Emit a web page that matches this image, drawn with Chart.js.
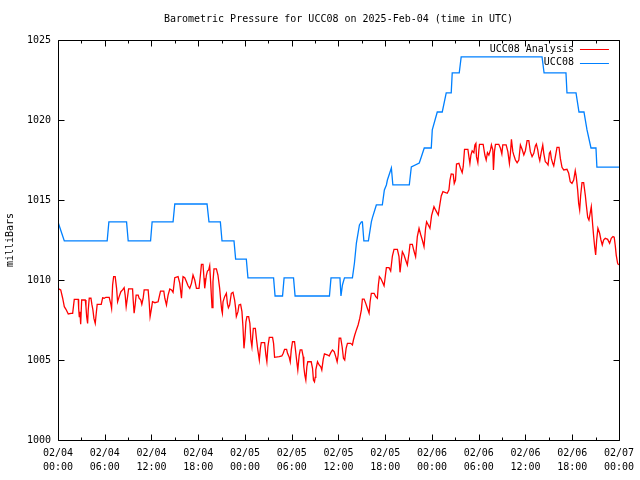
<!DOCTYPE html>
<html><head><meta charset="utf-8">
<script src="https://cdn.jsdelivr.net/npm/chart.js@4.4.1/dist/chart.umd.min.js"></script>
<style>html,body{margin:0;padding:0;background:#fff}</style>
</head><body>
<canvas id="c" width="640" height="480"></canvas>
<script>
// ---- data (hours since 2025-02-04 00:00 UTC, pressure in mbar) ----
const chartTitle = 'Barometric Pressure for UCC08 on 2025-Feb-04 (time in UTC)';
const yAxisTitle = 'milliBars';
const seriesNames = ['UCC08 Analysis', 'UCC08'];

const xTickHours = [0, 6, 12, 18, 24, 30, 36, 42, 48, 54, 60, 66, 72];
const xTickLabels = [
  ['02/04', '00:00'], ['02/04', '06:00'], ['02/04', '12:00'], ['02/04', '18:00'],
  ['02/05', '00:00'], ['02/05', '06:00'], ['02/05', '12:00'], ['02/05', '18:00'],
  ['02/06', '00:00'], ['02/06', '06:00'], ['02/06', '12:00'], ['02/06', '18:00'],
  ['02/07', '00:00']
];
const yTickValues = [1000, 1005, 1010, 1015, 1020, 1025];

const analysisHours = [0.09,0.35,0.60,0.81,1.02,1.32,1.67,1.88,2.09,2.60,2.65,2.73,2.82,2.91,3.04,3.50,3.59,3.68,3.80,3.88,4.01,4.23,4.36,4.48,4.61,4.78,4.91,5.03,5.55,5.73,5.93,6.15,6.57,6.79,6.88,7.01,7.14,7.34,7.52,7.65,7.85,8.07,8.29,8.49,8.62,8.75,8.93,9.06,9.57,9.65,9.77,9.90,10.03,10.29,10.41,10.63,10.76,10.93,11.06,11.57,11.70,11.82,12.00,12.13,12.43,12.85,13.16,13.58,13.71,13.92,14.13,14.35,14.57,14.77,14.99,15.41,15.63,15.85,15.97,16.05,16.27,16.49,16.69,16.91,17.13,17.33,17.55,17.77,18.10,18.28,18.41,18.61,18.74,18.83,19.05,19.18,19.34,19.47,19.60,19.77,19.89,20.02,20.33,20.53,20.75,20.88,21.01,21.10,21.18,21.39,21.61,21.74,21.87,22.03,22.25,22.46,22.67,22.80,22.89,23.10,23.23,23.44,23.61,23.74,23.87,23.99,24.12,24.25,24.47,24.63,24.76,24.89,25.07,25.33,25.49,25.62,25.75,25.84,25.97,26.09,26.52,26.68,26.81,26.94,27.12,27.54,27.67,27.80,28.40,28.73,28.91,29.08,29.34,29.46,29.68,29.81,29.94,30.10,30.36,30.53,30.65,30.78,30.96,31.09,31.30,31.47,31.55,31.68,31.81,31.94,32.06,32.50,32.67,32.79,32.92,33.01,33.09,33.31,33.52,33.73,33.86,34.04,34.20,34.63,34.81,35.01,35.23,35.45,35.65,35.83,35.96,36.09,36.29,36.47,36.64,36.80,36.98,37.15,37.57,37.79,37.92,38.09,38.30,38.52,38.73,38.94,39.07,39.29,39.50,39.71,39.93,40.06,40.22,40.57,40.78,40.99,41.12,41.25,41.42,41.63,41.85,41.98,42.15,42.49,42.70,42.92,43.13,43.56,43.77,43.90,44.07,44.20,44.41,44.62,44.84,45.05,45.18,45.48,45.69,45.90,46.03,46.12,46.34,46.54,46.76,46.98,47.18,47.31,47.53,47.74,47.95,48.26,48.46,48.81,48.97,49.19,49.41,49.96,50.18,50.31,50.47,50.73,50.86,51.02,51.15,51.46,51.66,51.88,52.01,52.18,52.61,52.74,52.87,53.00,53.16,53.38,53.51,53.64,53.71,53.89,54.02,54.10,54.57,54.79,54.96,55.12,55.30,55.51,55.63,55.81,55.89,56.02,56.15,56.58,56.79,56.97,57.09,57.52,57.74,57.94,58.07,58.20,58.38,58.50,58.71,58.93,59.15,59.35,59.57,59.79,59.99,60.21,60.43,60.63,60.85,61.07,61.27,61.40,61.58,61.71,61.84,62.00,62.22,62.35,62.55,62.77,62.90,63.07,63.20,63.32,63.50,63.63,63.84,64.05,64.31,64.48,64.69,64.91,65.33,65.55,65.75,65.97,66.19,66.39,66.52,66.70,66.83,66.96,67.09,67.26,67.47,67.68,67.81,67.99,68.15,68.32,68.45,68.63,68.75,68.88,69.01,69.14,69.30,69.52,69.69,69.86,70.03,70.24,70.55,70.80,71.01,71.23,71.39,71.52,71.65,71.83,71.96];
const analysisMb = [1009.44,1009.38,1008.86,1008.33,1008.17,1007.88,1007.92,1007.92,1008.79,1008.79,1008.23,1007.71,1008.02,1007.23,1008.75,1008.75,1008.33,1007.71,1007.29,1008.13,1008.86,1008.86,1008.44,1008.13,1007.60,1007.29,1007.92,1008.48,1008.48,1008.89,1008.86,1008.92,1008.92,1008.48,1008.23,1009.69,1010.21,1010.21,1009.48,1008.64,1008.96,1009.27,1009.38,1009.52,1009.06,1008.33,1008.96,1009.44,1009.44,1008.75,1007.92,1008.44,1009.06,1009.06,1008.86,1008.75,1008.48,1008.86,1009.38,1009.38,1008.64,1007.71,1008.23,1008.64,1008.58,1008.64,1009.31,1009.31,1008.86,1008.44,1009.06,1009.44,1009.38,1009.23,1010.14,1010.21,1009.79,1008.86,1009.79,1010.21,1010.14,1009.89,1009.64,1009.48,1009.79,1010.31,1010.00,1009.48,1009.48,1010.31,1010.98,1010.98,1010.11,1009.48,1010.31,1010.56,1010.63,1010.89,1009.79,1008.27,1009.89,1010.69,1010.69,1010.31,1009.48,1008.75,1008.13,1007.92,1008.64,1008.96,1009.17,1008.54,1008.27,1008.44,1009.17,1009.23,1008.75,1008.23,1007.71,1008.02,1008.44,1008.48,1008.02,1007.08,1005.73,1006.36,1007.39,1007.71,1007.71,1007.29,1006.25,1005.83,1006.98,1006.98,1006.25,1005.73,1005.31,1005.00,1005.73,1006.08,1006.08,1005.31,1004.89,1005.83,1006.42,1006.42,1006.04,1005.17,1005.21,1005.25,1005.42,1005.67,1005.67,1005.42,1005.17,1004.89,1005.63,1006.14,1006.14,1005.42,1004.89,1004.38,1005.31,1005.63,1005.63,1005.21,1004.58,1004.06,1003.75,1004.58,1004.89,1004.89,1004.48,1003.75,1003.64,1003.92,1004.38,1004.89,1004.69,1004.58,1004.38,1005.04,1005.38,1005.31,1005.25,1005.46,1005.63,1005.52,1005.21,1004.89,1005.31,1006.36,1006.36,1005.83,1005.11,1005.00,1005.73,1006.04,1006.04,1005.94,1006.25,1006.56,1006.88,1007.19,1007.60,1008.13,1008.81,1008.81,1008.54,1008.23,1007.92,1008.64,1009.17,1009.17,1008.96,1008.86,1009.69,1010.21,1010.11,1009.89,1009.64,1010.11,1010.77,1010.77,1010.56,1011.50,1011.92,1011.92,1011.46,1010.48,1011.25,1011.77,1011.56,1011.25,1010.94,1011.67,1012.23,1012.23,1011.81,1011.46,1012.19,1012.71,1013.23,1012.86,1012.50,1012.08,1013.23,1013.64,1013.44,1013.23,1014.02,1014.58,1014.38,1014.06,1014.58,1015.25,1015.52,1015.42,1015.63,1016.25,1016.63,1016.60,1016.04,1016.25,1017.25,1017.29,1016.98,1016.71,1017.08,1018.17,1018.17,1017.71,1017.29,1017.81,1018.08,1017.96,1018.44,1018.54,1017.71,1017.33,1018.13,1018.48,1018.48,1017.81,1017.50,1017.96,1017.81,1018.13,1018.44,1018.13,1016.88,1018.02,1018.48,1018.48,1018.23,1017.88,1018.44,1018.44,1018.02,1017.29,1017.92,1018.79,1018.02,1017.81,1017.50,1017.33,1017.50,1018.44,1018.17,1017.81,1018.08,1018.71,1018.71,1018.02,1017.71,1017.92,1018.38,1018.50,1018.13,1017.71,1017.46,1017.92,1018.44,1017.92,1017.39,1017.29,1017.19,1017.92,1018.02,1017.60,1017.29,1017.13,1017.71,1018.29,1018.29,1017.60,1017.04,1016.88,1016.92,1016.67,1016.14,1016.04,1016.25,1016.83,1016.46,1015.63,1014.79,1014.38,1015.31,1016.08,1016.08,1015.31,1014.69,1013.92,1013.75,1014.21,1014.58,1013.44,1012.75,1012.08,1011.56,1012.50,1013.23,1012.92,1012.50,1012.19,1012.50,1012.61,1012.54,1012.29,1012.61,1012.71,1012.67,1012.19,1011.56,1011.04,1010.94];

const stationHours = [0,0.47,0.81,6.31,6.53,8.80,9.01,11.88,12.08,14.77,14.99,19.13,19.38,20.84,21.05,22.59,22.80,24.17,24.38,27.67,27.86,28.82,29.02,30.23,30.43,34.84,35.04,36.19,36.32,36.51,36.77,37.79,38.05,38.30,38.69,38.94,39.07,39.26,39.84,40.22,40.35,40.86,41.63,41.89,42.15,42.28,42.79,42.98,45.09,45.35,46.37,46.63,47.01,47.91,48.04,48.68,49.32,49.83,50.47,50.60,51.50,51.75,62.13,62.39,65.20,65.33,66.49,66.87,67.51,67.90,68.41,69.05,69.17,72];
const stationMb = [1013.63,1012.94,1012.44,1012.44,1013.63,1013.63,1012.44,1012.44,1013.63,1013.63,1014.75,1014.75,1013.63,1013.63,1012.44,1012.44,1011.31,1011.31,1010.13,1010.13,1009.00,1009.00,1010.13,1010.13,1009.00,1009.00,1010.13,1010.13,1009.00,1009.69,1010.13,1010.13,1011.06,1012.31,1013.44,1013.63,1013.63,1012.44,1012.44,1013.63,1013.88,1014.69,1014.69,1015.63,1015.94,1016.25,1017.00,1015.94,1015.94,1017.06,1017.31,1017.69,1018.25,1018.25,1019.38,1020.50,1020.50,1021.69,1021.69,1022.94,1022.94,1023.94,1023.94,1022.94,1022.94,1021.69,1021.69,1020.50,1020.50,1019.38,1018.25,1018.25,1017.06,1017.06];

const seriesColors = ['#ff0000', '#0080ff'];

// ---- chart ----
const FONT = { family: "'DejaVu Sans Mono', 'Liberation Mono', monospace", size: 10 };
const toPts = (xs, ys) => xs.map((h, i) => ({ x: h, y: ys[i] }));

const frameTicks = {
  id: 'frameTicks',
  afterDraw(chart) {
    const { ctx, chartArea: a, scales: { x, y } } = chart;
    ctx.save();
    ctx.strokeStyle = '#000';
    ctx.lineWidth = 1;
    const L = Math.round(a.left) + 0.5, R = Math.round(a.right) + 0.5;
    const T = Math.round(a.top) + 0.5, B = Math.round(a.bottom) + 0.5;
    ctx.beginPath();
    ctx.rect(L, T, R - L, B - T);
    yTickValues.forEach(v => {
      const py = Math.round(y.getPixelForValue(v)) + 0.5;
      ctx.moveTo(L, py); ctx.lineTo(L + 6, py);
      ctx.moveTo(R, py); ctx.lineTo(R - 6, py);
    });
    for (let h = 0; h <= 72; h += 3) {
      const px = Math.round(x.getPixelForValue(h)) + 0.5;
      const len = (h % 6 === 0) ? 6 : 3;
      ctx.moveTo(px, B); ctx.lineTo(px, B - len);
      ctx.moveTo(px, T); ctx.lineTo(px, T + len);
    }
    ctx.stroke();
    // title, centred over the plot area
    ctx.font = `${FONT.size}px ${FONT.family}`;
    ctx.fillStyle = '#000';
    ctx.textAlign = 'center';
    ctx.textBaseline = 'middle';
    ctx.fillText(chartTitle, (a.left + a.right) / 2, 19);
    ctx.restore();
  }
};

const sideLegend = {
  id: 'sideLegend',
  afterDatasetsDraw(chart) {
    const { ctx, chartArea: a } = chart;
    ctx.save();
    ctx.font = `${FONT.size}px ${FONT.family}`;
    ctx.textAlign = 'right';
    ctx.textBaseline = 'middle';
    chart.data.datasets.forEach((ds, i) => {
      const yy = a.top + 9 + i * 13.5;
      ctx.fillStyle = '#000';
      ctx.fillText(ds.label, a.right - 45, yy);
      ctx.strokeStyle = ds.borderColor;
      ctx.lineWidth = 1;
      ctx.beginPath();
      ctx.moveTo(a.right - 39, Math.round(yy) + 0.5);
      ctx.lineTo(a.right - 10, Math.round(yy) + 0.5);
      ctx.stroke();
    });
    ctx.restore();
  }
};

new Chart(document.getElementById('c'), {
  type: 'scatter',
  data: {
    datasets: [
      { label: seriesNames[0], data: toPts(analysisHours, analysisMb), borderColor: seriesColors[0],
        backgroundColor: seriesColors[0], showLine: true, borderWidth: 1.3, pointRadius: 0, tension: 0 },
      { label: seriesNames[1], data: toPts(stationHours, stationMb), borderColor: seriesColors[1],
        backgroundColor: seriesColors[1], showLine: true, borderWidth: 1.3, pointRadius: 0, tension: 0 }
    ]
  },
  options: {
    responsive: false,
    animation: false,
    devicePixelRatio: 1,
    layout: { padding: { left: 0, right: 20, top: 40, bottom: 0 } },
    plugins: {
      legend: { display: false },
      tooltip: { enabled: false },
      title: { display: false }
    },
    scales: {
      x: {
        type: 'linear', min: 0, max: 72,
        afterBuildTicks: s => { s.ticks = xTickHours.map(v => ({ value: v })); },
        ticks: { autoSkip: false, maxRotation: 0, minRotation: 0, padding: 6, color: '#000',
                 font: { ...FONT, lineHeight: 1.4 },
                 callback: v => xTickLabels[xTickHours.indexOf(v)] },
        grid: { display: false, drawTicks: false },
        border: { display: false },
        afterFit: s => { s.height = 40; }
      },
      y: {
        min: 1000, max: 1025,
        afterBuildTicks: s => { s.ticks = yTickValues.map(v => ({ value: v })); },
        ticks: { padding: 7, color: '#000', font: FONT, callback: v => String(v) },
        grid: { display: false, drawTicks: false },
        border: { display: false },
        title: { display: true, text: yAxisTitle, color: '#000', font: FONT, padding: { top: 4, bottom: 0 } },
        afterFit: s => { s.width = 58; }
      }
    }
  },
  plugins: [frameTicks, sideLegend]
});
</script>
</body></html>
